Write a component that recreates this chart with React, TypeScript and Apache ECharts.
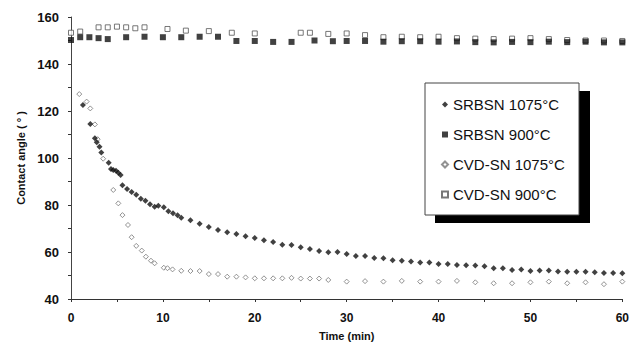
import React, { useEffect, useRef } from "react";
import * as echarts from "echarts";

const xTicks = [0, 10, 20, 30, 40, 50, 60];
const yTicks = [40, 60, 80, 100, 120, 140, 160];

const srbsn1075T = [1.3, 2.1, 2.6, 2.8, 3.1, 3.3, 4.1, 4.35, 4.6, 4.9, 5.15, 5.4, 5.6, 6.1, 6.6, 7.1, 7.6, 8.1, 8.6, 9.1, 9.5, 10.1, 10.6, 11.1, 11.6, 12, 13, 14, 15, 16, 17, 18, 19, 20, 21, 22, 23, 24, 25, 26, 27, 28, 29, 30, 31, 32, 33, 34, 35, 36, 37, 38, 39, 40, 41, 42, 43, 44, 45, 46, 47, 48, 49, 50, 51, 52, 53, 54, 55, 56, 57, 58, 59, 60];
const srbsn1075V = [122.6, 114.5, 108.4, 106.7, 104.8, 102.3, 98, 95.3, 94.9, 94.6, 93.7, 92.8, 88.4, 86.8, 85.5, 84.4, 82.7, 81.8, 80.3, 79.3, 79.7, 79, 77.3, 76.5, 75.6, 74.6, 73.5, 72, 70.6, 69.4, 68.4, 67.7, 66.7, 66, 65, 64.3, 63.1, 63, 62, 61.3, 60.4, 59.9, 60, 59.1, 58.3, 58.3, 57.4, 57.3, 56.5, 56.3, 56, 55.5, 55.5, 54.9, 54.9, 54.5, 54.4, 54.3, 53.9, 53.1, 53.1, 52.3, 52.6, 51.9, 52.1, 52.1, 51.7, 51.6, 51.6, 51.6, 51.4, 51.1, 51.1, 51];

const srbsn900T = [0, 1, 2, 3, 4, 6, 8, 10, 12, 14, 16, 18, 20, 22, 24, 26.5, 28.5, 30, 32, 34, 36, 38, 40, 42, 44, 46, 48, 50, 52, 54, 56, 58, 60];
const srbsn900V = [150.2, 151.4, 151.4, 151, 150.6, 151.4, 151.6, 151.4, 151.4, 151.6, 151.6, 149.8, 149.8, 149.4, 149.4, 150, 149.7, 149.8, 149.8, 149.5, 149.7, 149.7, 149.5, 149.6, 149.3, 149.2, 149.4, 149.3, 149.5, 149.3, 149.5, 149.2, 149.2];

const cvd1075T = [0.9, 1.7, 2.1, 2.6, 2.9, 3.5, 4.6, 5.15, 5.6, 6.2, 6.6, 7.1, 7.7, 8.15, 8.7, 9.1, 10.1, 10.5, 11.05, 12, 13, 14, 15, 16, 17, 18, 19, 20, 21, 22, 23, 24, 25, 26, 27, 28, 30, 32, 34, 36, 38, 40, 42, 44, 46, 48, 50, 52, 54, 56, 58, 60];
const cvd1075V = [127.2, 124, 121.1, 114.3, 108, 99.7, 86.4, 80.7, 75.7, 71.5, 66.3, 62.6, 60.6, 58, 56.3, 55.2, 53.3, 53.1, 52.6, 52, 51.9, 51.9, 50.6, 50.6, 49.5, 49.5, 49.2, 48.8, 48.8, 48.8, 48.8, 49, 48.7, 48.7, 48.7, 48.1, 47.4, 47.6, 47.4, 47.7, 47.4, 47.4, 47.7, 47.1, 46.7, 46.7, 47.1, 47.4, 46.7, 47.1, 46.3, 47.4];

const cvd900T = [0, 1, 3, 4, 5, 6, 7, 8, 10.5, 12.5, 15, 17.5, 20, 25, 26, 28, 30, 32, 34, 36, 38, 40, 42, 44, 46, 48, 50, 52, 54, 56, 58, 60];
const cvd900V = [153.3, 153.8, 155.6, 155.6, 155.9, 155.6, 155.2, 155.6, 154.9, 154.2, 154, 153.3, 153, 153.3, 153.3, 152.8, 153, 152.3, 151.4, 151.6, 151.4, 151.6, 151, 150.8, 150.6, 150.8, 151, 150.6, 150.2, 150, 150, 149.8];

const seriesNames = ["SRBSN 1075°C", "SRBSN 900°C", "CVD-SN 1075°C", "CVD-SN 900°C"];

const zip = (t: number[], v: number[]) => t.map((x, i) => [x, v[i]]);

export default function App() {
  const ref = useRef<HTMLDivElement>(null);
  useEffect(() => {
    if (!ref.current) return;
    const chart = echarts.init(ref.current, null, { renderer: "svg" });
    const font = "'Liberation Sans', Arial, sans-serif";
    chart.setOption({
      animation: false,
      backgroundColor: "#fff",
      grid: { left: 71, right: 9, top: 17, bottom: 49 },
      xAxis: {
        type: "value",
        min: 0,
        max: 60,
        interval: 10,
        name: "Time (min)",
        nameLocation: "middle",
        nameGap: 31,
        nameTextStyle: { fontFamily: font, fontSize: 11, fontWeight: "bold", color: "#111" },
        axisLine: { lineStyle: { color: "#333", width: 1 } },
        axisTick: { show: true, length: 3, lineStyle: { color: "#333" } },
        minorTick: { show: true, splitNumber: 2, length: 3, lineStyle: { color: "#333" } },
        splitLine: { show: false },
        axisLabel: { fontFamily: font, fontSize: 12, fontWeight: "bold", color: "#111", margin: 13 },
      },
      yAxis: {
        type: "value",
        min: 40,
        max: 160,
        interval: 20,
        name: "Contact angle ( ° )",
        nameLocation: "middle",
        nameGap: 45,
        nameTextStyle: { fontFamily: font, fontSize: 11, fontWeight: "bold", color: "#111" },
        axisLine: { show: true, lineStyle: { color: "#444", width: 1 } },
        axisTick: { show: true, length: 3, lineStyle: { color: "#333" } },
        minorTick: { show: true, splitNumber: 2, length: 3, lineStyle: { color: "#333" } },
        splitLine: { show: false },
        axisLabel: { fontFamily: font, fontSize: 13, fontWeight: "bold", color: "#111", margin: 12 },
      },
      legend: {
        orient: "vertical",
        left: 436,
        top: 92,
        itemWidth: 6,
        itemHeight: 6,
        itemGap: 15,
        data: seriesNames,
        textStyle: { fontFamily: font, fontSize: 15, color: "#111", padding: [0, 0, 0, 0] },
      },
      graphic: [
        { type: "rect", shape: { x: 435, y: 91, width: 155, height: 132 }, style: { fill: "#000" }, z: 0 },
        { type: "rect", shape: { x: 425, y: 83, width: 154, height: 132 }, style: { fill: "#fff", stroke: "#444", lineWidth: 1 }, z: 1 },
      ],
      series: [
        {
          name: seriesNames[0],
          type: "scatter",
          symbol: "diamond",
          symbolSize: 6,
          itemStyle: { color: "#111" },
          data: zip(srbsn1075T, srbsn1075V),
          z: 4,
        },
        {
          name: seriesNames[1],
          type: "scatter",
          symbol: "rect",
          symbolSize: 6,
          itemStyle: { color: "#111" },
          data: zip(srbsn900T, srbsn900V),
          z: 4,
        },
        {
          name: seriesNames[2],
          type: "scatter",
          symbol: "diamond",
          symbolSize: 5,
          itemStyle: { color: "#fff", borderColor: "#777", borderWidth: 1 },
          data: zip(cvd1075T, cvd1075V),
          z: 3,
        },
        {
          name: seriesNames[3],
          type: "scatter",
          symbol: "rect",
          symbolSize: 5,
          itemStyle: { color: "#fff", borderColor: "#555", borderWidth: 1 },
          data: zip(cvd900T, cvd900V),
          z: 3,
        },
      ],
    });
    return () => chart.dispose();
  }, []);
  return <div ref={ref} style={{ width: 632, height: 348, position: "absolute", left: 0, top: 0 }} />;
}
